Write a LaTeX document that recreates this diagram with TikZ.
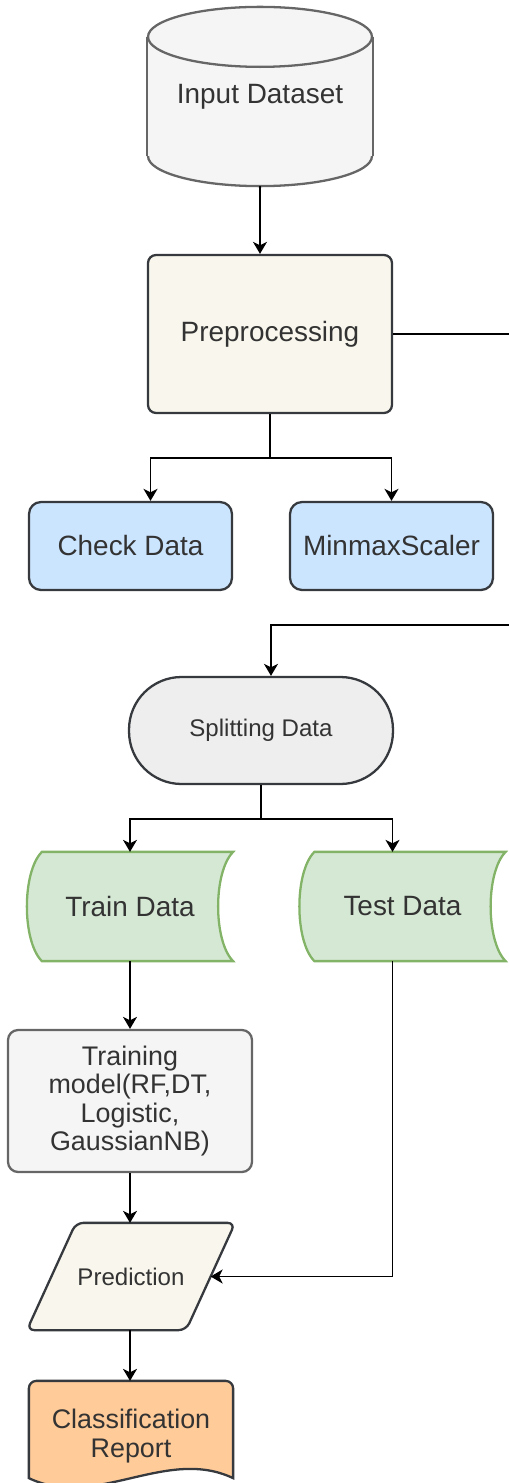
\documentclass[tikz,border=0pt]{standalone}
\usepackage{fontspec}
\setmainfont{Liberation Sans}
\usetikzlibrary{arrows.meta,backgrounds}
\definecolor{txt}{HTML}{333333}
\definecolor{darkline}{HTML}{36393D}
\definecolor{grayline}{HTML}{666666}
\definecolor{grayfill}{HTML}{F5F5F5}
\definecolor{creamfill}{HTML}{F9F7ED}
\definecolor{bluefill}{HTML}{CCE5FF}
\definecolor{splitfill}{HTML}{EEEEEE}
\definecolor{greenfill}{HTML}{D5E8D4}
\definecolor{greenline}{HTML}{82B366}
\definecolor{orangefill}{HTML}{FFCC99}
\begin{document}
\begin{tikzpicture}[x=0.02cm,y=-0.02cm,every node/.style={text=txt,align=center,line width=1.3pt,font=\fontsize{15.9}{16.2}\selectfont}]
        \tikzset{edge/.style = {-{Stealth[length=2.4mm,width=2.8mm,inset=0.7mm]},line width=1pt}}
        \tikzset{box/.style = {rectangle,draw=darkline,rounded corners=0.24cm,minimum width=4.06cm,minimum height=1.76cm}}
        \tikzset{outline/.style = {line width=1.3pt}}
        \tikzset{small/.style = {font=\fontsize{13.7}{15}\selectfont}}
        \tikzset{multi/.style = {font=\fontsize{15.3}{16.2}\selectfont}}
        \useasboundingbox (0,0) rectangle (509,1483);

        \node (In) at (260,96.5) [minimum width=4.48cm,minimum height=3.54cm] {Input Dataset};
        \node (Pre) at (270,334) [box,fill=creamfill,rounded corners=0.16cm,minimum width=4.88cm,minimum height=3.16cm] {Preprocessing};

        \node (Chk) at (130.5,546) [box,fill=bluefill] {Check Data};
        \node (Mm) at (391.5,546) [box,fill=bluefill] {MinmaxScaler};

        \node (Spl) at (261,730.5) [box,small,fill=splitfill,rounded corners=1.05cm,minimum width=5.28cm,minimum height=2.14cm] {Splitting Data};

        \node (Tr) at (130,906.5) [minimum width=4.08cm,minimum height=2.14cm] {Train Data};
        \node (Te) at (402.5,906.5) [minimum width=4.08cm,minimum height=2.14cm] {Test Data};

        \node (Tm) at (130,1101) [box,multi,draw=grayline,fill=grayfill,rounded corners=0.2cm,minimum width=4.88cm,minimum height=2.84cm] {Training\\model(RF,DT,\\Logistic,\\GaussianNB)};
        \node (Pr) at (131,1276.5) [small,minimum width=3.14cm,minimum height=2.1cm] {Prediction};
        \node (Rep) at (131,1436) [multi,minimum width=4.04cm,minimum height=2.16cm] {Classification\\Report};

        \begin{scope}[on background layer]
        % cylinder
        \filldraw[outline,draw=grayline,fill=grayfill] ([yshift=0.6cm]In.south) ellipse[x radius=2.24cm,y radius=0.6cm];
        \fill[grayfill] ([yshift=-0.6cm]In.north west) rectangle ([yshift=0.6cm]In.south east);
        \draw[outline,draw=grayline] ([yshift=-0.6cm]In.north west) -- ([yshift=0.6cm]In.south west)
                ([yshift=-0.6cm]In.north east) -- ([yshift=0.6cm]In.south east);
        \filldraw[outline,draw=grayline,fill=grayfill] ([yshift=-0.6cm]In.north) ellipse[x radius=2.24cm,y radius=0.6cm];
        % stored data
        \foreach \s in {Tr,Te}
        \filldraw[outline,draw=greenline,fill=greenfill] ([xshift=0.3cm]\s.north west) -- (\s.north east)
                .. controls ([xshift=-0.4cm,yshift=-0.4cm]\s.north east) and ([xshift=-0.4cm,yshift=0.4cm]\s.south east) .. (\s.south east)
                -- ([xshift=0.3cm]\s.south west)
                .. controls ([xshift=-0.1cm,yshift=0.4cm]\s.south west) and ([xshift=-0.1cm,yshift=-0.4cm]\s.north west) .. cycle;
        % prediction
        \filldraw[outline,draw=darkline,fill=creamfill,rounded corners=0.15cm] ([xshift=0.49cm]Pr.north west) -- ([xshift=0.49cm]Pr.north east)
                -- ([xshift=-0.49cm]Pr.south east) -- ([xshift=-0.49cm]Pr.south west) -- cycle;
        % report
        \filldraw[outline,draw=darkline,fill=orangefill] ([yshift=0.26cm]Rep.south west) [rounded corners=0.15cm] -- (Rep.north west)
                -- (Rep.north east) [sharp corners] -- ([yshift=0.26cm]Rep.south east)
                .. controls ([xshift=-1.34cm,yshift=0.9cm]Rep.south east) and ([xshift=1.34cm,yshift=-0.38cm]Rep.south west) .. cycle;
        \end{scope}

        \coordinate (R1) at (520,334);
        \coordinate (R2) at (520,625);
        \coordinate (B1) at (270,458);
        \coordinate (B2) at (261,819);

        \draw[edge] (In.south) -- (In.south |- Pre.north);
        \draw[line width=1pt] (Pre.east) -- (R1);
        \draw[edge] (Pre.south) -- (B1) -| ([xshift=0.4cm]Chk.north);
        \draw[edge] (B1) -| (Mm.north);
        \draw[edge] (R2) -| ([xshift=0.2cm]Spl.north);
        \draw[edge] (Spl.south) -- (B2) -| (Tr.north);
        \draw[edge] (B2) -| ([xshift=-0.2cm]Te.north);
        \draw[edge] (Tr.south) -- (Tm.north);
        \draw[edge] (Tm.south) -- (Tm.south |- Pr.north);
        \draw[edge] ([xshift=-0.2cm]Te.south) |- (Pr.east);
        \draw[edge] (Tm.south |- Pr.south) -- (Tm.south |- Rep.north);
\end{tikzpicture}
\end{document}
